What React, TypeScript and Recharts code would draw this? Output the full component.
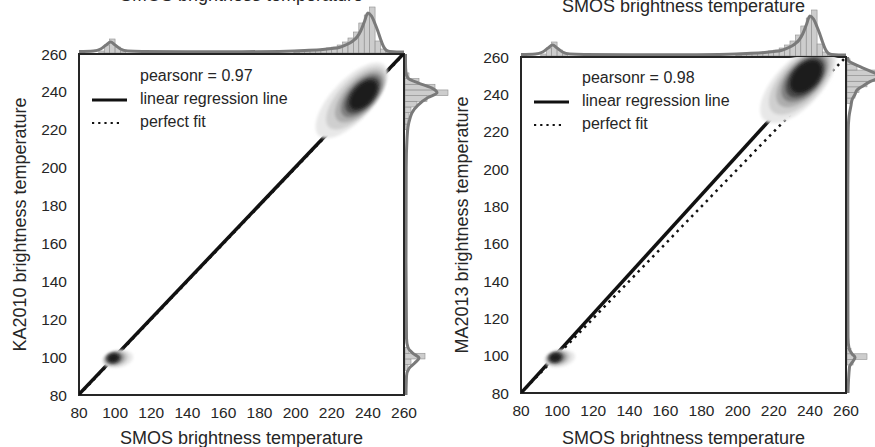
import React from 'react';
import { ComposedChart, Scatter, Line, Bar, XAxis, YAxis, ReferenceArea } from 'recharts';

const FONT = '"Liberation Sans", Arial, sans-serif';
const INK = '#262626';

const axisTicks = [80, 100, 120, 140, 160, 180, 200, 220, 240, 260];
const xTitle = 'SMOS brightness temperature';
const yTitles = ['KA2010 brightness temperature', 'MA2013 brightness temperature'];
const pearsonR = [0.97, 0.98];
const fitSlope = [1.0, 1.062];
const fitIntercept = [0.4, -4.96];

// SMOS histogram (3 K bins) and density, used by both top margins
const smosBins = [92.5, 95.5, 98.5, 101.5, 104.5, 200.5, 203.5, 206.5, 209.5, 212.5, 215.5, 218.5, 221.5, 224.5, 227.5, 230.5, 233.5, 236.5, 239.5, 242.5, 245.5, 248.5, 251.5];
const smosCounts = [2, 8, 14, 6, 2, 1, 1.5, 2, 2.5, 3, 4, 5, 6, 8, 11, 15, 21, 30, 38, 46, 12, 4, 1.5];
const smosKdeT = [80, 88, 92, 95, 97.5, 100, 103, 107, 115, 140, 170, 195, 205, 215, 220, 224, 227, 230, 232, 234, 236, 238, 240, 242, 244, 245.5, 247, 248.5, 250, 252, 256, 260];
const smosKdeH = [1.5, 2, 4, 8, 11, 8, 4, 2, 1.5, 1.2, 1.3, 1.8, 2.5, 3.5, 4.5, 5.5, 7.5, 10, 12.5, 16, 22, 31, 40, 37, 29, 22, 14, 7, 3, 1.5, 1, 1];

// KA2010 histogram and density (right margin, left panel)
const kaBins = [94.5, 97.5, 100.5, 103.5, 221.5, 224.5, 227.5, 230.5, 233.5, 236.5, 239.5, 242.5, 245.5, 248.5, 251.5];
const kaCounts = [3, 6, 20, 4, 2, 3, 4, 6, 12, 22, 43, 30, 14, 4, 1];
const kaKdeT = [80, 90, 94, 97, 99.5, 102, 105, 110, 150, 200, 215, 221.5, 226, 229, 233, 237, 239.5, 242, 244.7, 247.3, 250, 255, 260];
const kaKdeH = [1, 1.5, 4, 10, 14, 8, 3, 1.5, 1, 1.2, 2, 3, 5, 7, 13, 23, 32, 27, 13, 3, 1, 0.5, 0.5];

// MA2013 histogram and density (right margin, right panel)
const maBins = [96.5, 99.5, 102.5, 236.5, 239.5, 242.5, 245.5, 248.5, 251.5, 254.5, 257.5];
const maCounts = [6, 20, 4, 5, 8, 12, 20, 40, 30, 10, 3];
const maKdeT = [80, 94, 97, 99, 101, 104, 110, 180, 220, 228, 234, 237, 240, 242.3, 244.5, 246.8, 249.5, 252, 254.8, 257, 258.4, 260];
const maKdeH = [1, 2.5, 6, 8, 5, 2, 1, 0.8, 1.2, 2, 4, 5, 8, 10, 16, 23, 34, 25, 13, 4, 1, 0.5];

// 2-D density contours, lightest level first: centre (K), semi-axes (K)
const kaWarmX = [231, 233.5, 235.5, 236.5, 237, 237.5];
const kaWarmY = [235.5, 236.8, 237.6, 238, 238.2, 238.4];
const kaWarmA = [26, 21.5, 17.5, 14.5, 12, 9.5];
const kaWarmB = [11, 9.5, 8.3, 7.2, 6.2, 5.2];
const kaColdX = [101.5, 100.5, 100, 99.5, 99.2, 99];
const kaColdY = [99, 99.2, 99.3, 99.4, 99.5, 99.5];
const coldA = [8.5, 7, 5.8, 4.8, 3.8, 3];
const coldB = [4.5, 3.8, 3.3, 2.9, 2.5, 2.1];
const maWarmX = [233.5, 235, 236, 236.8, 237.3, 237.8];
const maWarmY = [245.5, 246.8, 247.8, 248.5, 249, 249.5];
const maWarmA = [27, 22.5, 18.5, 15.5, 13, 10.5];
const maWarmB = [12.5, 11, 9.5, 8.5, 7.5, 6.5];
const maColdX = [101.5, 100.5, 100, 99.5, 99.2, 99];
const maColdY = [98.5, 98.7, 98.8, 98.9, 99, 99];

const levelFill = ['#e8e8e8', '#cfcfcf', '#adadad', '#808080', '#4a4a4a', '#1c1c1c'];

type Contour = { x: number; y: number; a: number; b: number; tilt: number; level: number };

const contourRows = (xs: number[], ys: number[], as: number[], bs: number[], tilt: number): Contour[] =>
  xs.map((x, i) => ({ x, y: ys[i], a: as[i], b: bs[i], tilt, level: i }));

const kaContours = [
  ...contourRows(kaColdX, kaColdY, coldA, coldB, 10),
  ...contourRows(kaWarmX, kaWarmY, kaWarmA, kaWarmB, 45),
].sort((p, q) => p.level - q.level);
const maContours = [
  ...contourRows(maColdX, maColdY, coldA, coldB, 10),
  ...contourRows(maWarmX, maWarmY, maWarmA, maWarmB, 45),
].sort((p, q) => p.level - q.level);

const rows = (ts: number[], hs: number[]) => ts.map((t, i) => ({ t, h: hs[i] }));

const fitRows = (slope: number, icpt: number) => {
  const x1 = Math.min(260, (260 - icpt) / slope);
  const x0 = Math.max(80, (80 - icpt) / slope);
  return [
    { x: x0, y: slope * x0 + icpt },
    { x: x1, y: slope * x1 + icpt },
  ];
};

// ellipse in data units, projected with the px-per-kelvin factors of the plot
function ellipsePath(cx: number, cy: number, c: Contour, kx: number, ky: number) {
  const t = (c.tilt * Math.PI) / 180;
  const pts: string[] = [];
  for (let i = 0; i < 60; i++) {
    const th = (i / 60) * Math.PI * 2;
    const u = c.a * Math.cos(th);
    const v = c.b * Math.sin(th);
    const dx = u * Math.cos(t) - v * Math.sin(t);
    const dy = u * Math.sin(t) + v * Math.cos(t);
    pts.push(`${(cx + dx * kx).toFixed(2)},${(cy - dy * ky).toFixed(2)}`);
  }
  return `M${pts.join('L')}Z`;
}

type PanelCfg = {
  left: number;
  width: number;
  boxLeft: number;
  boxRight: number;
  boxTop: number;
  boxBottom: number;
  legendTop: number;
  yTitleOffset: number;
};

const panelCfgs: PanelCfg[] = [
  { left: 0, width: 440, boxLeft: 79, boxRight: 404, boxTop: 54, boxBottom: 395, legendTop: 68, yTitleOffset: 20 },
  { left: 440, width: 435, boxLeft: 521, boxRight: 846, boxTop: 57, boxBottom: 393, legendTop: 70, yTitleOffset: 22 },
];

const HIST_FILL = '#c4c4c4';
const HIST_EDGE = '#8f8f8f';
const KDE_STROKE = '#7a7a7a';

// histogram bar of one bin width, centred on the bin the library placed
const histBar = (vertical: boolean, bw: number) => (p: any) =>
  vertical ? (
    <rect x={p.x} y={p.y + p.height / 2 - bw / 2} width={Math.max(0, p.width)} height={bw}
      fill={HIST_FILL} fillOpacity={0.85} stroke={HIST_EDGE} strokeWidth={0.6} />
  ) : (
    <rect x={p.x + p.width / 2 - bw / 2} y={p.y} width={bw} height={Math.max(0, p.height)}
      fill={HIST_FILL} fillOpacity={0.85} stroke={HIST_EDGE} strokeWidth={0.6} />
  );

function Panel({ idx, contours, sideBins, sideCounts, sideKdeT, sideKdeH }: {
  idx: number;
  contours: Contour[];
  sideBins: number[];
  sideCounts: number[];
  sideKdeT: number[];
  sideKdeH: number[];
}) {
  const cfg = panelCfgs[idx];
  const plotW = cfg.boxRight - cfg.boxLeft;
  const plotH = cfg.boxBottom - cfg.boxTop;
  const kx = plotW / 180;
  const ky = plotH / 180;
  const blurId = `kde-blur-${idx}`;
  const topH = cfg.boxTop - 1;
  const tickStyle = { fontSize: 15.5, fill: INK, fontFamily: FONT };

  return (
    <>
      {/* top margin: SMOS */}
      <div style={{ position: 'absolute', left: cfg.boxLeft, top: 0 }}>
        <ComposedChart width={plotW} height={topH} data={rows(smosBins, smosCounts)} margin={{ top: 0, right: 0, bottom: 0, left: 0 }}>
          <XAxis hide type="number" dataKey="t" domain={[80, 260]} allowDataOverflow />
          <YAxis hide type="number" domain={[0, topH]} allowDataOverflow />
          <Bar dataKey="h" barSize={3 * kx} shape={histBar(false, 3 * kx)} isAnimationActive={false} />
          <Line data={rows(smosKdeT, smosKdeH)} dataKey="h" type="monotone" stroke={KDE_STROKE} strokeWidth={3} dot={false} isAnimationActive={false} />
        </ComposedChart>
      </div>

      {/* right margin: the comparison product */}
      <div style={{ position: 'absolute', left: cfg.boxRight + 1, top: cfg.boxTop }}>
        <ComposedChart layout="vertical" width={45} height={plotH} data={rows(sideBins, sideCounts)} margin={{ top: 0, right: 0, bottom: 0, left: 0 }}>
          <XAxis hide type="number" domain={[0, 45]} allowDataOverflow />
          <YAxis hide type="number" dataKey="t" domain={[80, 260]} reversed allowDataOverflow />
          <Bar dataKey="h" barSize={3 * ky} shape={histBar(true, 3 * ky)} isAnimationActive={false} />
          <Line data={rows(sideKdeT, sideKdeH)} dataKey="h" type="monotone" stroke={KDE_STROKE} strokeWidth={3} dot={false} isAnimationActive={false} />
        </ComposedChart>
      </div>

      {/* joint plot */}
      <div style={{ position: 'absolute', left: cfg.left, top: 0 }}>
        <ComposedChart
          width={cfg.width}
          height={447}
          margin={{ top: cfg.boxTop, right: cfg.left + cfg.width - cfg.boxRight, bottom: 0, left: 0 }}
        >
          <defs>
            <filter id={blurId} x="-30%" y="-30%" width="160%" height="160%">
              <feGaussianBlur stdDeviation={1.5} />
            </filter>
          </defs>
          <XAxis
            type="number"
            dataKey="x"
            domain={[80, 260]}
            ticks={axisTicks}
            allowDataOverflow
            tickLine={false}
            axisLine={false}
            tick={tickStyle}
            tickMargin={6}
            height={447 - cfg.boxBottom}
            label={{ value: xTitle, position: 'insideBottom', offset: 3.5, fontSize: 18, fill: INK, fontFamily: FONT }}
          />
          <YAxis
            type="number"
            dataKey="y"
            domain={[80, 260]}
            ticks={axisTicks}
            allowDataOverflow
            tickLine={false}
            axisLine={false}
            tick={tickStyle}
            tickMargin={6}
            width={cfg.boxLeft - cfg.left}
            label={{
              value: yTitles[idx],
              angle: -90,
              position: 'insideLeft',
              offset: cfg.yTitleOffset,
              fontSize: 18,
              fill: INK,
              fontFamily: FONT,
              style: { textAnchor: 'middle' },
            }}
          />
          <Scatter
            data={contours}
            isAnimationActive={false}
            shape={(p: any) => (
              <path
                d={ellipsePath(p.cx, p.cy, p.payload as Contour, kx, ky)}
                fill={levelFill[p.payload.level]}
                filter={`url(#${blurId})`}
              />
            )}
          />
          <Line
            data={fitRows(1, 0)}
            dataKey="y"
            type="linear"
            stroke="#111"
            strokeWidth={2.5}
            strokeDasharray="2.5 4.5"
            dot={false}
            isAnimationActive={false}
          />
          <Line
            data={fitRows(fitSlope[idx], fitIntercept[idx])}
            dataKey="y"
            type="linear"
            stroke="#111"
            strokeWidth={3.5}
            dot={false}
            isAnimationActive={false}
          />
          <ReferenceArea x1={80} x2={260} y1={80} y2={260} fill="none" stroke={INK} strokeWidth={2} />
        </ComposedChart>
      </div>

      {/* fit legend */}
      <div style={{ position: 'absolute', left: cfg.boxLeft, top: cfg.legendTop, fontSize: 16, lineHeight: '16px', color: INK, whiteSpace: 'nowrap' }}>
        <div style={{ position: 'absolute', left: 61, top: 0 }}>pearsonr = {pearsonR[idx].toFixed(2)}</div>
        <div style={{ position: 'absolute', left: 61, top: 23 }}>linear regression line</div>
        <div style={{ position: 'absolute', left: 61, top: 46 }}>perfect fit</div>
        <svg style={{ position: 'absolute', left: 12, top: 0 }} width={40} height={64}>
          <line x1={1} x2={36} y1={32} y2={32} stroke="#111" strokeWidth={3} />
          <line x1={1} x2={32} y1={55} y2={55} stroke="#111" strokeWidth={2.2} strokeDasharray="2.2 4" />
        </svg>
      </div>
    </>
  );
}

export default function App() {
  return (
    <div
      style={{
        position: 'absolute',
        left: 0,
        top: 0,
        width: 875,
        height: 447,
        overflow: 'hidden',
        background: '#fff',
        fontFamily: FONT,
      }}
    >
      {/* x titles of the row above, cut by the top edge */}
      <svg style={{ position: 'absolute', left: 0, top: 0 }} width={875} height={20}>
        <text x={241.5} y={1} textAnchor="middle" fontSize={18} fill={INK} fontFamily={FONT}>{xTitle}</text>
        <text x={683.5} y={12} textAnchor="middle" fontSize={18} fill={INK} fontFamily={FONT}>{xTitle}</text>
      </svg>
      <Panel idx={0} contours={kaContours} sideBins={kaBins} sideCounts={kaCounts} sideKdeT={kaKdeT} sideKdeH={kaKdeH} />
      <Panel idx={1} contours={maContours} sideBins={maBins} sideCounts={maCounts} sideKdeT={maKdeT} sideKdeH={maKdeH} />
    </div>
  );
}
